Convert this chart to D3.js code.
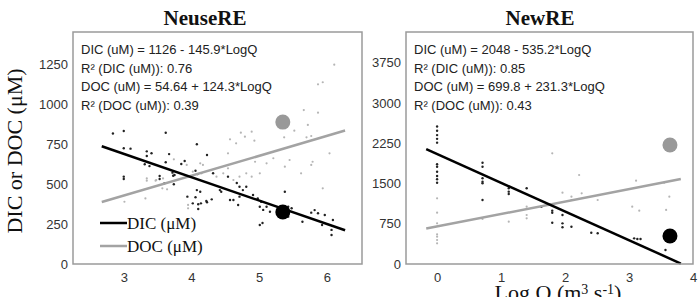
<!DOCTYPE html>
<html>
  <head>
    <meta charset="utf-8">
    <style>
      body { margin: 0; background: #fff; }
      svg { display: block; }
      .tick text { font-family: "Liberation Sans", Arial, sans-serif; font-size: 13px; fill: #333; }
      .eq { font-family: "Liberation Sans", Arial, sans-serif; font-size: 13px; fill: #222; }
      .serif { font-family: "Liberation Serif", "Times New Roman", serif; fill: #111; }
    </style>
  </head>
  <body>
    <div class="chart"></div>
    <script src="https://cdn.jsdelivr.net/npm/d3@7"></script>
    <script>

// NeuseRE observations [logQ, value]
var neuseDic = [
  [2.84, 816], [3.0, 831], [3.62, 820], [4.08, 748], [3.0, 723], [3.10, 721], [3.34, 704],
  [3.41, 692], [3.34, 675], [3.67, 687], [4.23, 681], [3.62, 636], [3.31, 623], [3.38, 612],
  [3.85, 625], [3.90, 644], [3.0, 546], [3.0, 531], [3.53, 550], [3.53, 531], [3.73, 552],
  [4.06, 583], [3.74, 498], [3.60, 504], [4.08, 462], [4.13, 452], [3.94, 421], [4.06, 417],
  [4.30, 404], [4.23, 386], [4.10, 373], [4.10, 344], [3.72, 571], [3.75, 556], [4.09, 562],
  [4.32, 567], [4.54, 546], [4.67, 506], [4.71, 483], [4.76, 462], [4.81, 483], [4.42, 462],
  [4.44, 452], [4.22, 394], [4.14, 379], [4.02, 379], [4.57, 400], [4.62, 400], [4.71, 421],
  [4.69, 369], [4.91, 431], [4.98, 410], [5.03, 389], [5.01, 358], [5.06, 338], [5.11, 358],
  [5.16, 327], [5.38, 452], [5.43, 358], [5.48, 348], [5.43, 296], [5.64, 264], [5.77, 321],
  [5.82, 337], [5.87, 317], [5.97, 306], [6.09, 275], [5.93, 244], [6.07, 213], [6.07, 181],
  [5.01, 244], [5.05, 256]
];
var neuseDoc = [
  [3.01, 389], [3.34, 535], [3.48, 525], [3.58, 535], [3.93, 619], [4.02, 577], [4.17, 619],
  [4.15, 567], [4.37, 546], [4.47, 567], [4.54, 598], [4.62, 525], [4.71, 546], [4.81, 567],
  [4.89, 546], [5.01, 567], [4.54, 692], [4.66, 754], [4.94, 639], [5.11, 629], [5.21, 661],
  [5.38, 608], [5.45, 650], [5.62, 567], [5.77, 619], [5.79, 639], [5.94, 473], [6.04, 692],
  [3.95, 348], [3.95, 369], [6.11, 1246], [5.87, 1123], [5.94, 1136], [5.66, 962], [5.87, 946],
  [5.72, 869], [5.52, 833], [5.37, 792], [4.73, 821], [4.57, 779], [4.93, 771], [5.70, 792],
  [5.77, 800], [3.47, 521], [3.32, 410], [3.57, 473], [3.64, 467], [3.74, 654], [4.13, 629],
  [3.34, 521], [4.79, 796], [4.89, 827]
];

// NewRE observations [logQ, value]
var newDic = [
  [0, 2560], [0, 2480], [0, 2400], [0, 2330], [0, 2260], [0, 1857], [0, 1812], [0, 1719],
  [0, 1639], [0, 1577], [0, 1514], [0.71, 1886], [0.71, 1812], [0.71, 1596], [0.71, 1533],
  [0.71, 1503], [0.71, 1192], [1.12, 1410], [1.12, 1347], [1.12, 1304], [1.40, 1410],
  [1.63, 1067], [1.80, 993], [1.80, 955], [1.80, 769], [1.96, 912], [1.96, 757], [1.96, 683],
  [2.10, 695], [2.41, 583], [2.51, 572], [3.08, 478], [3.13, 466], [3.18, 466], [3.57, 261]
];
var newDoc = [
  [0, 1223], [0, 955], [0, 758], [0, 553], [0, 509], [0, 447], [0, 385], [0.71, 838],
  [1.12, 788], [1.40, 1067], [1.40, 912], [1.40, 851], [1.80, 2061], [1.96, 1328],
  [2.10, 1253], [2.10, 1192], [2.22, 1657], [2.26, 1316], [2.51, 1192], [3.11, 1551],
  [3.05, 1067], [3.16, 993], [3.55, 1514], [3.63, 1253], [3.58, 1006]
];

// highlighted points [logQ, DIC, DOC]
var neuseHighlight = [5.35, 325, 887];
var newHighlight = [3.64, 521, 2216];

// fits: [intercept, slope], fitted logQ range
var neuseDicFit = [1126, -145.9], neuseDocFit = [54.64, 124.3], neuseFitRange = [2.675, 6.27];
var newDicFit = [2048, -535.2], newDocFit = [699.8, 231.3], newFitRange = [-0.17, 3.81];

var neuseLabels = ['DIC (uM) = 1126 - 145.9*LogQ', 'R\u00b2 (DIC (uM)): 0.76',
  'DOC (uM) = 54.64 + 124.3*LogQ', 'R\u00b2 (DOC (uM)): 0.39'];
var newLabels = ['DIC (uM) = 2048 - 535.2*LogQ', 'R\u00b2 (DIC (uM)): 0.85',
  'DOC (uM) = 699.8 + 231.3*LogQ', 'R\u00b2 (DOC (uM)): 0.43'];

var neuseXTicks = [3, 4, 5, 6], neuseYTicks = [0, 250, 500, 750, 1000, 1250];
var newXTicks = [0, 1, 2, 3, 4], newYTicks = [0, 750, 1500, 2250, 3000, 3750];

var width = 700, height = 297;
var svg = d3.select('.chart').append('svg')
    .attr('width', width)
    .attr('height', height);

var dicColor = '#000', docColor = '#a3a3a3';
var fmt = d3.format('d');

function panel(opt) {
  var x = d3.scaleLinear().domain(opt.xDomain).range([opt.left, opt.right]);
  var y = d3.scaleLinear().domain(opt.yDomain).range([264, 32]);
  var g = svg.append('g');

  g.append('g')
    .attr('transform', 'translate(0,264)')
    .call(d3.axisBottom(x).tickValues(opt.xTicks).tickFormat(fmt).tickSize(0).tickPadding(9))
    .call(function (a) { a.select('.domain').remove(); });

  g.append('g')
    .attr('transform', 'translate(' + opt.left + ',0)')
    .call(d3.axisLeft(y).tickValues(opt.yTicks).tickFormat(fmt).tickSize(0).tickPadding(5))
    .call(function (a) { a.select('.domain').remove(); });

  g.selectAll('.docdot').data(opt.doc).enter().append('circle')
    .attr('cx', function (d) { return x(d[0]); })
    .attr('cy', function (d) { return y(d[1]); })
    .attr('r', 1.1)
    .attr('fill', '#b5b5b5');

  g.selectAll('.dicdot').data(opt.dic).enter().append('circle')
    .attr('cx', function (d) { return x(d[0]); })
    .attr('cy', function (d) { return y(d[1]); })
    .attr('r', 1.2)
    .attr('fill', '#222');

  var line = d3.line()
    .x(function (d) { return x(d[0]); })
    .y(function (d) { return y(d[1]); });

  function fitPts(fit) {
    return opt.range.map(function (v) { return [v, fit[0] + fit[1] * v]; });
  }

  g.append('path').attr('d', line(fitPts(opt.docFit)))
    .attr('stroke', docColor).attr('stroke-width', 2.5).attr('fill', 'none');
  g.append('path').attr('d', line(fitPts(opt.dicFit)))
    .attr('stroke', dicColor).attr('stroke-width', 2.5).attr('fill', 'none');

  g.append('circle')
    .attr('cx', x(opt.hi[0])).attr('cy', y(opt.hi[2])).attr('r', 7.5)
    .attr('fill', '#999');
  g.append('circle')
    .attr('cx', x(opt.hi[0])).attr('cy', y(opt.hi[1])).attr('r', 7.5)
    .attr('fill', '#000');

  g.append('rect')
    .attr('x', opt.left).attr('y', 32)
    .attr('width', opt.right - opt.left).attr('height', 232)
    .attr('fill', 'none').attr('stroke', '#9a9a9a').attr('stroke-width', 1.5);

  g.selectAll('.eq').data(opt.labels).enter().append('text')
    .attr('class', 'eq')
    .attr('x', opt.left + 8)
    .attr('y', function (d, i) { return 54 + i * 18.5; })
    .text(function (d) { return d; });

  g.append('text')
    .attr('class', 'serif')
    .attr('x', opt.titleX).attr('y', 25)
    .attr('text-anchor', 'middle')
    .attr('font-size', 21).attr('font-weight', 'bold')
    .text(opt.title);

  return g;
}

panel({
  left: 73, right: 362, xDomain: [2.25, 6.52], yDomain: [0, 1450],
  xTicks: neuseXTicks, yTicks: neuseYTicks, dic: neuseDic, doc: neuseDoc,
  dicFit: neuseDicFit, docFit: neuseDocFit, range: neuseFitRange,
  hi: neuseHighlight, labels: neuseLabels, title: 'NeuseRE', titleX: 205
});

panel({
  left: 406, right: 693, xDomain: [-0.486, 4.0], yDomain: [0, 4320],
  xTicks: newXTicks, yTicks: newYTicks, dic: newDic, doc: newDoc,
  dicFit: newDicFit, docFit: newDocFit, range: newFitRange,
  hi: newHighlight, labels: newLabels, title: 'NewRE', titleX: 540
});

// legend
var legend = svg.append('g');
[['DIC (\u03bcM)', dicColor, 223], ['DOC (\u03bcM)', docColor, 246]].forEach(function (d) {
  legend.append('line')
    .attr('x1', 100).attr('x2', 127).attr('y1', d[2]).attr('y2', d[2])
    .attr('stroke', d[1]).attr('stroke-width', 2.5);
  legend.append('text')
    .attr('class', 'serif')
    .attr('x', 127).attr('y', d[2] + 6)
    .attr('font-size', 17)
    .text(d[0]);
});

// axis titles
svg.append('text')
  .attr('class', 'serif')
  .attr('transform', 'translate(22,151) rotate(-90)')
  .attr('text-anchor', 'middle')
  .attr('font-size', 22)
  .text('DIC or DOC (\u03bcM)');

var xt = svg.append('text')
  .attr('class', 'serif')
  .attr('x', 558).attr('y', 300)
  .attr('text-anchor', 'middle')
  .attr('font-size', 22);
xt.append('tspan').text('Log Q (m');
xt.append('tspan').attr('font-size', 14).attr('dy', -6).text('3');
xt.append('tspan').attr('dy', 6).text(' s');
xt.append('tspan').attr('font-size', 14).attr('dy', -6).text('-1');
xt.append('tspan').attr('dy', 6).text(')');

    </script>
  </body>
</html>
